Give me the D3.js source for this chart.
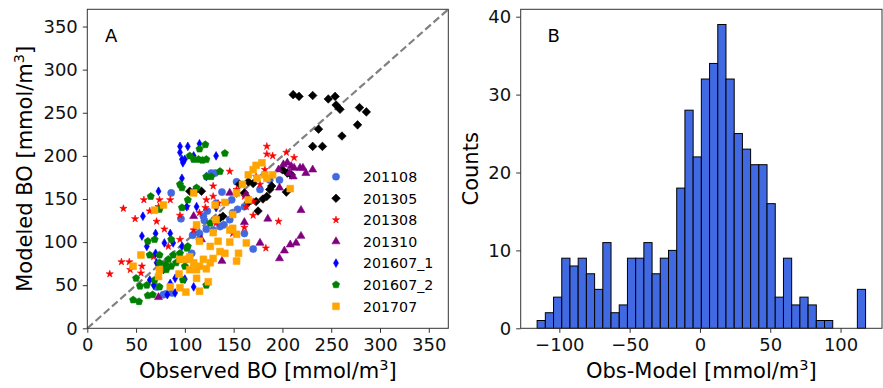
<!DOCTYPE html>
<html>
<head>
<meta charset="utf-8">
<script src="https://cdn.jsdelivr.net/npm/d3@7"></script>
<style>
  body { margin: 0; background: #fff; }
  svg, svg text { font-family: "DejaVu Sans", sans-serif; }
  svg { display: block; }
  .axis path, .axis line { stroke: #333; stroke-width: 1; }
  .axis text { font-size: 18px; fill: #111; font-family: "DejaVu Sans", sans-serif; }
</style>
</head>
<body>
<svg id="fig" width="883" height="388"></svg>
<script>
/* Panel A: modeled vs observed BO, Panel B: histogram of Obs-Model */

// ----- data (obs, model) per cruise -----
var s201108 = [[86,157],[96,127],[108,108],[115,110],[122,115],[129,114],[136,118],[127,180],[131,180],[138,158],
  [146,126],[153,170],[154,138],[149,134],[170,92],[161,110],[177,161],[197,172],[187,172],[78,39],[87,41],[81,40],
  [132,145],[123,136],[148,149],[102,80],[107,87],[115,103],[119,130],[161,141],[71,48],[140,120],[120,125]];
var s201305 = [[211,271],[217,269],[231,270],[247,266],[254,269],[255,259],[259,254],[279,256],[286,251],[237,231],
  [277,236],[261,223],[231,211],[241,211],[200,184],[205,180],[204,158],[189,165],[187,161],[184,153],[180,150],
  [175,136],[165,170],[170,168],[161,157],[173,147],[165,146],[105,159],[110,159],[117,159],[139,130],[136,128],
  [209,178],[156,167]];
var s201308 = [[23,63],[37,139],[49,127],[58,149],[35,77],[43,77],[44,68],[56,72],[55,64],[71,124],[74,149],[79,115],
  [85,149],[73,141],[95,131],[102,141],[122,149],[129,153],[121,140],[146,182],[161,153],[163,141],[170,147],[184,211],
  [184,202],[190,200],[212,198],[204,204],[196,124],[183,93],[170,131],[161,117],[149,110],[132,122],[115,134],[109,114],
  [95,103],[83,95],[68,83],[64,136],[129,165],[182,184],[177,167],[173,176],[134,145],[153,161]];
var s201310 = [[196,184],[201,190],[205,192],[209,188],[212,186],[218,186],[221,186],[224,180],[231,184],[207,180],
  [211,176],[197,163],[219,137],[185,127],[161,123],[146,157],[109,130],[219,107],[214,99],[208,97],[202,90],[197,81],
  [177,99],[163,155],[138,78],[73,36],[117,103]];
var s201607_1 = [[95,211],[95,204],[97,196],[98,192],[100,196],[103,211],[115,214],[109,200],[132,200],[97,174],
  [73,159],[57,130],[56,107],[61,95],[70,110],[70,87],[79,99],[85,110],[88,99],[97,95],[71,76],[78,68],[68,50],
  [85,52],[90,58],[100,57],[109,48],[82,39],[112,141],[132,140],[102,141],[122,176],[90,41],[64,56]];
var s201607_2 = [[105,200],[109,196],[114,196],[118,195],[121,213],[122,196],[141,203],[115,208],[136,182],[122,176],
  [127,176],[95,167],[97,163],[103,149],[97,140],[65,153],[74,138],[62,101],[69,103],[74,85],[64,85],[50,58],[54,49],
  [61,50],[69,56],[47,33],[53,31],[62,38],[67,39],[74,48],[83,80],[88,85],[95,80],[100,72],[86,103],[86,72],[81,68],
  [95,87],[102,93],[98,56],[122,50],[126,122],[112,163],[74,76],[80,74],[91,76],[103,95]];
var s201707 = [[69,137],[78,143],[55,85],[47,72],[73,60],[74,68],[85,48],[95,47],[101,42],[94,63],[102,80],[105,83],
  [109,76],[112,68],[115,72],[119,80],[122,69],[126,76],[129,81],[115,43],[112,58],[124,54],[115,101],[126,95],
  [134,101],[136,89],[141,87],[146,100],[149,116],[153,109],[155,87],[153,78],[163,99],[112,120],[109,157],[131,143],
  [141,146],[149,132],[153,157],[159,167],[165,178],[170,184],[173,189],[179,192],[182,178],[190,178],[174,174],
  [184,174],[208,162],[165,149],[146,114],[132,126],[129,111],[95,80],[105,68]];

var seriesNames = ['201108', '201305', '201308', '201310', '201607_1', '201607_2', '201707'];
var seriesData = [s201108, s201305, s201308, s201310, s201607_1, s201607_2, s201707];
var seriesColors = ['#4169e1', '#000000', '#ff0000', '#800080', '#0000ff', '#008000', '#ffa500'];
var seriesShapes = ['circle', 'bigdiamond', 'star', 'triangle', 'thindiamond', 'pentagon', 'square'];

var scatterTicks = [0, 50, 100, 150, 200, 250, 300, 350];

// ----- histogram data -----
var histCounts = [1, 2, 4, 9, 8, 9, 7, 5, 11, 2, 3, 9, 9, 11, 7, 9, 10, 18, 28, 22, 32, 34, 39, 32, 25, 23, 21, 21,
  16, 4, 9, 3, 4, 3, 1, 1, 0, 0, 0, 5];
var histLo = -115.8, histHi = 117.8;
var histXTicks = [-100, -50, 0, 50, 100];
var histYTicks = [0, 10, 20, 30, 40];

var svg = d3.select('#fig');

// ----- marker shapes -----
function shapePath(name) {
  if (name === 'circle') return d3.symbol(d3.symbolCircle, 40)();
  if (name === 'square') return d3.symbol(d3.symbolSquare, 46)();
  if (name === 'star') return d3.symbol(d3.symbolStar, 16)();
  if (name === 'triangle') return d3.symbol(d3.symbolTriangle, 28)();
  if (name === 'thindiamond') return d3.symbol(d3.symbolDiamond, 22)();
  if (name === 'bigdiamond') return 'M0,-4.3L4.3,0L0,4.3L-4.3,0Z';
  if (name === 'pentagon') {
    var r = 3.8, p = [];
    for (var k = 0; k < 5; k++) {
      var a = -Math.PI / 2 + k * 2 * Math.PI / 5;
      p.push([r * Math.cos(a), r * Math.sin(a)]);
    }
    return 'M' + p.join('L') + 'Z';
  }
}

function supLabel(sel, main) {
  sel.append('tspan').text(main);
  sel.append('tspan').attr('dy', -8).attr('font-size', 14.5).text('3');
  sel.append('tspan').attr('dy', 8).text(']');
}

// ================= Panel A =================
var A = { l: 87.3, r: 448.3, t: 9.3, b: 328.3 };
var xA = d3.scaleLinear().domain([0, 370]).range([A.l, A.r]);
var yA = d3.scaleLinear().domain([0, 370]).range([A.b, A.t]);

var gA = svg.append('g');
gA.append('g').attr('class', 'axis').attr('transform', 'translate(0,' + A.b + ')')
  .call(d3.axisBottom(xA).tickValues(scatterTicks).tickSize(4.5).tickPadding(5).tickSizeOuter(0));
gA.append('g').attr('class', 'axis').attr('transform', 'translate(' + A.l + ',0)')
  .call(d3.axisLeft(yA).tickValues(scatterTicks).tickSize(4.5).tickPadding(5).tickSizeOuter(0));
gA.selectAll('.axis .domain').remove();

gA.append('line')
  .attr('x1', xA(0)).attr('y1', yA(0)).attr('x2', xA(370)).attr('y2', yA(370))
  .attr('stroke', '#808080').attr('stroke-width', 2.2).attr('stroke-dasharray', '7.5,3.5');

seriesData.forEach(function (pts, i) {
  gA.append('g').selectAll('path').data(pts).enter().append('path')
    .attr('d', shapePath(seriesShapes[i]))
    .attr('transform', function (d) { return 'translate(' + xA(d[0]) + ',' + yA(d[1]) + ')'; })
    .attr('fill', seriesColors[i])
    .attr('stroke', seriesColors[i]).attr('stroke-width', 0.6);
});

gA.append('rect').attr('x', A.l).attr('y', A.t).attr('width', A.r - A.l).attr('height', A.b - A.t)
  .attr('fill', 'none').attr('stroke', '#333').attr('stroke-width', 1);

gA.append('text').attr('x', 105).attr('y', 41.5).attr('font-size', 18).text('A');

// legend
var leg = gA.append('g');
seriesNames.forEach(function (n, i) {
  var y = 176.7 + i * 21.6;
  leg.append('path').attr('d', shapePath(seriesShapes[i]))
    .attr('transform', 'translate(336,' + y + ')')
    .attr('fill', seriesColors[i]).attr('stroke', seriesColors[i]).attr('stroke-width', 0.6);
  leg.append('text').attr('x', 363).attr('y', y + 5.2).attr('font-size', 14.2).text(n);
});

gA.append('text').attr('x', (A.l + A.r) / 2).attr('y', 378).attr('text-anchor', 'middle').attr('font-size', 21)
  .call(supLabel, 'Observed BO [mmol/m');
gA.append('text').attr('transform', 'translate(32,' + (A.t + A.b) / 2 + ') rotate(-90)')
  .attr('text-anchor', 'middle').attr('font-size', 21)
  .call(supLabel, 'Modeled BO [mmol/m');

// ================= Panel B =================
var B = { l: 520.7, r: 882, t: 9.3, b: 328.3 };
var pad = (histHi - histLo) * 0.05;
var xB = d3.scaleLinear().domain([histLo - pad, histHi + pad]).range([B.l, B.r]);
var yB = d3.scaleLinear().domain([0, 40.95]).range([B.b, B.t]);
var bw = (histHi - histLo) / histCounts.length;
var bins = histCounts.map(function (c, i) { return { x0: histLo + i * bw, x1: histLo + (i + 1) * bw, n: c }; });

var gB = svg.append('g');
gB.append('g').attr('class', 'axis').attr('transform', 'translate(0,' + B.b + ')')
  .call(d3.axisBottom(xB).tickValues(histXTicks).tickSize(4.5).tickPadding(5).tickSizeOuter(0)
    .tickFormat(function (d) { return d < 0 ? '\u2212' + Math.abs(d) : d; }));
gB.append('g').attr('class', 'axis').attr('transform', 'translate(' + B.l + ',0)')
  .call(d3.axisLeft(yB).tickValues(histYTicks).tickSize(4.5).tickPadding(5).tickSizeOuter(0));
gB.selectAll('.axis .domain').remove();

gB.append('g').selectAll('rect').data(bins.filter(function (b) { return b.n > 0; })).enter().append('rect')
  .attr('x', function (b) { return xB(b.x0); })
  .attr('y', function (b) { return yB(b.n); })
  .attr('width', function (b) { return xB(b.x1) - xB(b.x0); })
  .attr('height', function (b) { return yB(0) - yB(b.n); })
  .attr('fill', '#4169e1').attr('stroke', '#000').attr('stroke-width', 1);

gB.append('rect').attr('x', B.l).attr('y', B.t).attr('width', B.r - B.l).attr('height', B.b - B.t)
  .attr('fill', 'none').attr('stroke', '#333').attr('stroke-width', 1);

gB.append('text').attr('x', 547.5).attr('y', 41.5).attr('font-size', 18).text('B');

gB.append('text').attr('x', (B.l + B.r) / 2).attr('y', 378).attr('text-anchor', 'middle').attr('font-size', 21)
  .call(supLabel, 'Obs-Model [mmol/m');
gB.append('text').attr('transform', 'translate(478,' + (B.t + B.b) / 2 + ') rotate(-90)')
  .attr('text-anchor', 'middle').attr('font-size', 21).text('Counts');
</script>
</body>
</html>
